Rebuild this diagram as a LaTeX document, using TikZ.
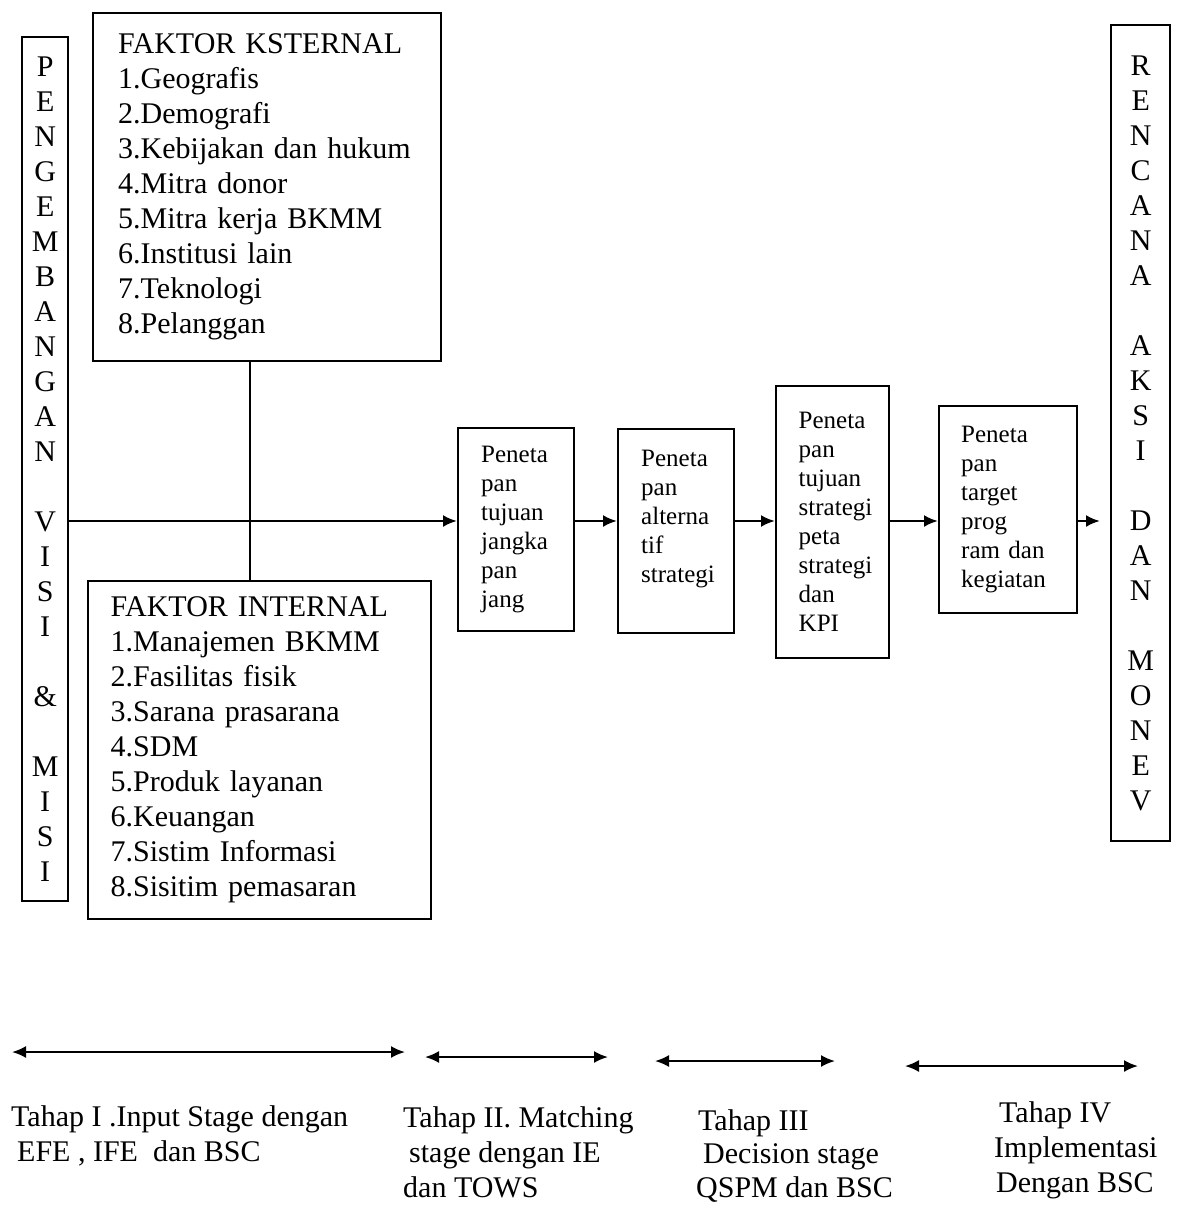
\documentclass[tikz,border=0pt]{standalone}
\usepackage{fontspec}
\setmainfont{Liberation Serif}
\usetikzlibrary{arrows.meta}

\begin{document}
\begin{tikzpicture}[
  x=0.5pt,y=-0.5pt,
  line width=1.2pt,
  box/.style={draw,anchor=north west,inner sep=0pt,font=\fontsize{15}{17.5}\selectfont},
  letters/.style={box,align=center},
  faktor/.style={box,align=left,text width=149pt},
  stage/.style={draw,anchor=north west,inner sep=0pt,align=left,text width=35pt,font=\fontsize{12.5}{14.5}\selectfont},
  flowarrow/.style={-{Latex[length=7pt,width=6pt]}},
  stagespan/.style={{Latex[length=7pt,width=6pt]}-{Latex[length=7pt,width=6pt]},line width=1pt},
  note/.style={anchor=north west,inner sep=0pt,align=left,font=\fontsize{15}{17.5}\selectfont}
]
  \useasboundingbox (0,0) rectangle (1179,1206);

  \node[letters,minimum width=23pt,minimum height=432pt] (visi) at (21,36)
    {P\\E\\N\\G\\E\\M\\B\\A\\N\\G\\A\\N\\[17.5pt]V\\I\\S\\I\\[17.5pt]\&\\[17.5pt]M\\I\\S\\I};
  \node[letters,minimum width=29.5pt,minimum height=408pt] (rencana) at (1110,24)
    {R\\E\\N\\C\\A\\N\\A\\[17.5pt]A\\K\\S\\I\\[17.5pt]D\\A\\N\\[17.5pt]M\\O\\N\\E\\V};

  \node[faktor,minimum width=174pt,minimum height=174pt] (ext) at (92,12)
    {FAKTOR KSTERNAL\\1.Geografis\\2.Demografi\\3.Kebijakan dan hukum\\4.Mitra donor\\5.Mitra kerja BKMM\\6.Institusi lain\\7.Teknologi\\8.Pelanggan};
  \node[faktor,minimum width=171.5pt,minimum height=169pt] (int) at (87,580)
    {FAKTOR INTERNAL\\1.Manajemen BKMM\\2.Fasilitas fisik\\3.Sarana prasarana\\4.SDM\\5.Produk layanan\\6.Keuangan\\7.Sistim Informasi\\8.Sisitim pemasaran};

  \node[stage,minimum width=58pt,minimum height=101.5pt] (s1) at (457,427)
    {Peneta\\pan\\tujuan\\jangka\\pan\\jang};
  \node[stage,minimum width=58pt,minimum height=102pt] (s2) at (617,428)
    {Peneta\\pan\\alterna\\tif\\strategi\\\mbox{}};
  \node[stage,text width=34pt,minimum width=56.5pt,minimum height=136pt] (s3) at (775,385)
    {Peneta\\pan\\tujuan\\strategi\\peta\\strategi\\dan\\KPI};
  \node[stage,text width=47pt,minimum width=69pt,minimum height=103.5pt] (s4) at (938,405)
    {Peneta\\pan\\target\\prog\\ram dan\\kegiatan};

  \coordinate (mid) at (250,521);
  \draw (ext.south -| mid) -- (int.north -| mid);
  \draw[flowarrow] (visi.east |- mid) -- (s1.west |- mid);
  \draw[flowarrow] (s1.east |- mid) -- (s2.west |- mid);
  \draw[flowarrow] (s2.east |- mid) -- (s3.west |- mid);
  \draw[flowarrow] (s3.east |- mid) -- (s4.west |- mid);
  \draw[flowarrow] (s4.east |- mid) -- ([xshift=-5pt]rencana.west |- mid);

  \coordinate (t1a) at (12,1052);
  \coordinate (t1b) at (405,1052);
  \coordinate (t2a) at (425,1057);
  \coordinate (t2b) at (608,1057);
  \coordinate (t3a) at (655,1061);
  \coordinate (t3b) at (835,1061);
  \coordinate (t4a) at (905,1066);
  \coordinate (t4b) at (1138,1066);
  \draw[stagespan] (t1a) -- (t1b);
  \draw[stagespan] (t2a) -- (t2b);
  \draw[stagespan] (t3a) -- (t3b);
  \draw[stagespan] (t4a) -- (t4b);

  \node[note] (tahap1) at (10,1104) {Tahap I .Input Stage dengan\\\hspace*{3pt}EFE , IFE \ dan BSC};
  \node[note] (tahap2) at (402,1105) {Tahap II. Matching\\\hspace*{3pt}stage dengan IE\\dan TOWS};
  \node[note,font=\fontsize{15}{16.75}\selectfont] (tahap3) at (695,1108) {\hspace*{1pt}Tahap III\\\hspace*{3.5pt}Decision stage\\QSPM dan BSC};
  \node[note] (tahap4) at (993,1100) {\hspace*{2.5pt}Tahap IV\\Implementasi\\\hspace*{1pt}Dengan BSC};
\end{tikzpicture}
\end{document}
